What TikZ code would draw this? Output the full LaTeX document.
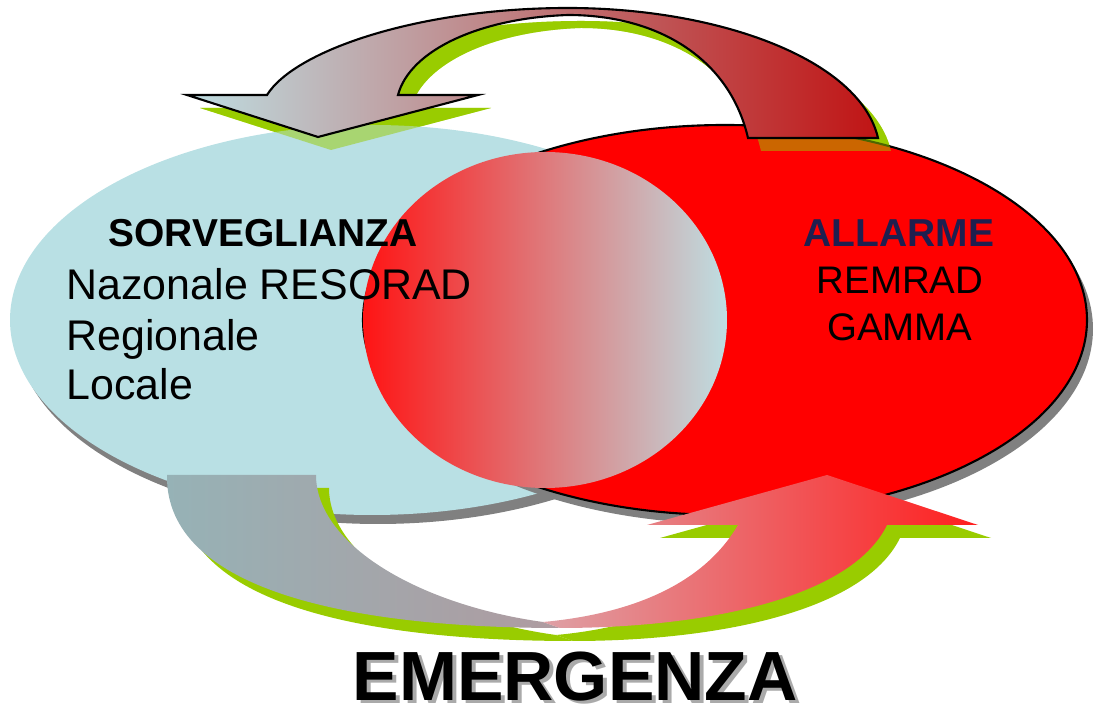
\documentclass[tikz,border=0pt]{standalone}
\usepackage{fontspec}
\setmainfont{Liberation Sans}
\definecolor{ciano}{RGB}{185,224,228}
\definecolor{rosso}{RGB}{255,0,0}
\definecolor{ombra}{RGB}{128,128,128}
\definecolor{ombratesto}{RGB}{170,170,170}
\definecolor{verde}{RGB}{153,204,0}
\definecolor{notte}{RGB}{31,31,79}
\definecolor{celeste}{RGB}{190,222,226}
\definecolor{rosa}{RGB}{216,176,180}
\definecolor{scuro}{RGB}{192,20,20}
\definecolor{grigioblu}{RGB}{150,178,182}
\definecolor{grigiorosa}{RGB}{175,155,160}
\definecolor{pesca}{RGB}{222,160,165}
\definecolor{corallo}{RGB}{248,100,100}
\definecolor{vivo}{RGB}{255,30,30}
\definecolor{acceso}{RGB}{255,20,20}
\definecolor{medio}{RGB}{225,155,160}

% freccia curva in alto (da ALLARME verso SORVEGLIANZA)
\def\ArcoSopra{(267,95) .. controls (295,50) and (420,8) .. (568,8)
  .. controls (720,8) and (860,60) .. (878,138) -- (748,138)
  .. controls (730,60) and (660,15) .. (568,15)
  .. controls (480,18) and (410,50) .. (398,95)
  -- (478,95) -- (318,137) -- (187,95) -- cycle}
% freccia curva in basso: coda grigia e punta rossa
\def\CodaSotto{(167,475) -- (316,475)
  .. controls (316,545) and (420,605) .. (543,622) -- (560,628)
  .. controls (350,628) and (165,590) .. (167,475) -- cycle}
\def\PuntaSotto{(543,622)
  .. controls (620,615) and (700,590) .. (738,525)
  -- (647,525) -- (827,475) -- (978,525) -- (887,525)
  .. controls (850,600) and (700,628) .. (560,628) -- cycle}

\tikzset{
  capo/.style={inner sep=0pt, font=\fontsize{11.07}{13}\selectfont\bfseries},
  voce/.style={inner sep=0pt, font=\fontsize{12.2}{14}\selectfont},
  destra/.style={inner sep=0pt, font=\fontsize{10.93}{13}\selectfont},
  grande/.style={inner sep=0pt, font=\fontsize{19.8}{23}\selectfont\bfseries},
  ovale/.style={x radius=362, y radius=195}
}

\begin{document}
\begin{tikzpicture}[x=0.01cm,y=-0.01cm]
\useasboundingbox (0,0) rectangle (1096,713);

% ombra verde sotto
\fill[verde,shift={(13,13)}] \ArcoSopra;

% ellissi con ombra
\fill[ombra] (378,329) ellipse [ovale];
\fill[ciano] (372,320) ellipse [ovale];
\fill[ombra] (731,329) ellipse [ovale];
\filldraw[fill=rosso,draw=black,line width=0.6pt] (725,320) ellipse [ovale];
\fill[verde,fill opacity=0.5,shift={(13,13)}] \ArcoSopra;

% zona comune
\shade[left color=acceso,middle color=medio,right color=celeste]
  (545,320) ellipse [x radius=182, y radius=168];

% frecce
\shadedraw[left color=celeste,middle color=rosa,right color=scuro,
  draw=black,line width=0.6pt] \ArcoSopra;
\fill[verde,shift={(13,13)}] \CodaSotto;
\fill[verde,shift={(13,13)}] \PuntaSotto;
\shade[left color=grigioblu,right color=grigiorosa] \CodaSotto;
\shade[left color=pesca,middle color=corallo,right color=vivo] \PuntaSotto;

% testi
\node[capo,anchor=base west] (sorv) at (108,247) {SORVEGLIANZA};
\node[voce,anchor=base west] (naz) at (66,300) {Nazonale RESORAD};
\node[voce,anchor=base west] (reg) at (66,351) {Regionale};
\node[voce,anchor=base west] (loc) at (66,400) {Locale};
\node[capo,text=notte,anchor=base] (all) at (899,247) {ALLARME};
\node[destra,anchor=base] (rem) at (900,294) {REMRAD};
\node[destra,anchor=base] (gam) at (900,341) {GAMMA};
\node[grande,text=ombratesto,anchor=base west] (emergombra) at (356,704) {EMERGENZA};
\node[grande,anchor=base west] (emerg) at (352,701) {EMERGENZA};
\end{tikzpicture}
\end{document}
